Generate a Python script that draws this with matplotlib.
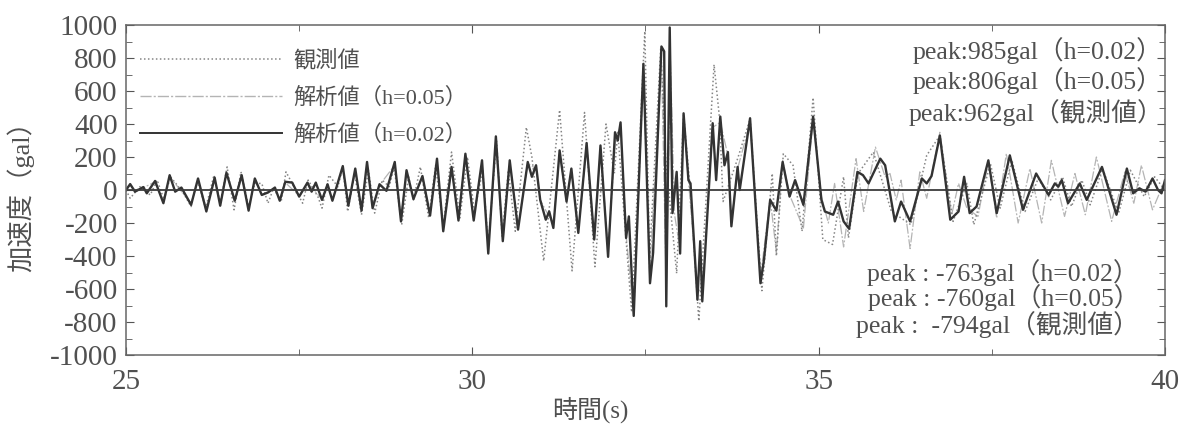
import numpy as np
import matplotlib
matplotlib.use('Agg')
import matplotlib.pyplot as plt
from matplotlib.lines import Line2D

plt.rcParams['axes.unicode_minus'] = False

# acceleration time histories (extrema, gal)
t02 = [25.00, 25.06, 25.13, 25.25, 25.30, 25.42, 25.54, 25.63, 25.71, 25.80,
       25.94, 26.04, 26.16, 26.28, 26.36, 26.45, 26.57, 26.67, 26.77, 26.86,
       26.96, 27.05, 27.15, 27.22, 27.30, 27.40, 27.50, 27.62, 27.68, 27.74,
       27.83, 27.91, 27.98, 28.13, 28.21, 28.31, 28.40, 28.48, 28.56, 28.66,
       28.76, 28.88, 28.97, 29.05, 29.15, 29.28, 29.39, 29.49, 29.58, 29.70,
       29.80, 29.90, 30.02, 30.14, 30.23, 30.34, 30.44, 30.54, 30.66, 30.80,
       30.86, 30.92, 30.98, 31.06, 31.11, 31.17, 31.26, 31.36, 31.43, 31.53,
       31.65, 31.76, 31.85, 31.96, 32.06, 32.10, 32.14, 32.22, 32.26, 32.33,
       32.47, 32.565, 32.61, 32.73, 32.77, 32.80, 32.85, 32.89, 32.95, 33.00,
       33.05, 33.12, 33.15, 33.25, 33.29, 33.32, 33.47, 33.52, 33.58, 33.64,
       33.69, 33.74, 33.83, 33.86, 34.01, 34.16, 34.21, 34.30, 34.39, 34.48,
       34.58, 34.66, 34.78, 34.92, 35.04, 35.09, 35.21, 35.28, 35.36, 35.44,
       35.56, 35.64, 35.72, 35.89, 35.96, 36.10, 36.19, 36.32, 36.49, 36.56,
       36.63, 36.75, 36.90, 37.02, 37.10, 37.18, 37.28, 37.45, 37.57, 37.76,
       37.95, 38.14, 38.32, 38.41, 38.46, 38.51, 38.60, 38.77, 38.87, 39.09,
       39.30, 39.45, 39.54, 39.63, 39.72, 39.82, 39.90, 39.95, 40.00]
a02 = [0, 36, -10, 18, -20, 55, -80, 90, -10, 15,
       -90, 70, -130, 75, -95, 105, -65, 90, -125, 70,
       -30, -15, 15, -65, 50, 45, -40, 45, -10, 45,
       -60, 35, -65, 145, -95, 130, -125, 170, -110, 35,
       -5, 170, -190, 120, -55, 85, -155, 190, -250, 140,
       -185, 220, -185, 180, -385, 325, -310, 180, -240, 170,
       80, 150, -60, -180, -130, -230, 240, -70, 130, -260,
       285, -300, 270, -405, 350, 300, 410, -290, -160, -763,
       765, -565, -380, 870, 840, -705, 985, -140, 110, -385,
       465, 60, 40, -665, -310, -675, 405, 60, 445, 150,
       230, -220, 140, 0, 435, -565, -425, -60, -125, 170,
       -40, 60, -90, 445, -60, -130, -150, -70, -190, -235,
       110, 90, 40, 190, 150, -190, -70, -190, 70, 40,
       85, 330, -180, -130, 80, -140, -100, 180, -140, 210,
       -120, 100, -30, 40, 20, 60, -80, 40, -60, 140,
       -150, 130, -20, 10, -10, 70, 0, -20, 60]

t05 = [25.00, 25.06, 25.14, 25.42, 25.54, 25.63, 25.94, 26.04, 26.16, 26.28,
       26.36, 26.45, 26.57, 26.67, 26.77, 26.86, 26.96, 27.15, 27.22, 27.30,
       27.50, 27.62, 27.83, 27.91, 27.98, 28.13, 28.21, 28.31, 28.40, 28.48,
       28.56, 28.66, 28.88, 28.97, 29.05, 29.15, 29.28, 29.39, 29.49, 29.58,
       29.70, 29.80, 29.90, 30.02, 30.14, 30.23, 30.34, 30.44, 30.54, 30.66,
       30.80, 30.92, 30.98, 31.17, 31.26, 31.36, 31.43, 31.53, 31.65, 31.76,
       31.85, 31.96, 32.07, 32.14, 32.22, 32.33, 32.47, 32.56, 32.73, 32.80,
       32.86, 32.92, 33.00, 33.05, 33.12, 33.25, 33.32, 33.47, 33.58, 33.69,
       33.74, 33.83, 34.01, 34.16, 34.30, 34.39, 34.48, 34.58, 34.78, 34.92,
       35.04, 35.14, 35.23, 35.36, 35.54, 35.65, 35.82, 35.96, 36.03, 36.12,
       36.19, 36.32, 36.46, 36.56, 36.75, 36.92, 37.02, 37.14, 37.30, 37.45,
       37.57, 37.71, 37.88, 38.05, 38.22, 38.36, 38.55, 38.70, 38.85, 39.01,
       39.23, 39.42, 39.55, 39.66, 39.82, 39.97, 40.00]
a05 = [0, 30, -10, 50, -70, 80, -80, 60, -110, 70,
       -90, 100, -60, 80, -110, 60, -30, 10, -60, 45,
       -35, 40, -55, 30, -60, 130, -90, 120, -115, 150,
       -100, 30, 150, -170, 110, -50, 80, -140, 170, -220,
       130, -170, 200, -170, 160, -340, 290, -280, 160, -220,
       160, 130, -60, -210, 220, -70, 120, -240, 260, -270,
       250, -360, 320, 370, -270, -760, 700, -520, 806, -600,
       780, -150, -360, 430, 60, -600, -620, 380, 410, 210,
       -200, 130, 410, -530, -50, -380, 180, -30, -230, 430,
       -40, -200, 40, -345, 190, -130, 260, 80, 100, -60,
       60, -355, 110, -50, 350, -150, 40, -110, -160, 170,
       -170, 220, -200, 130, -200, 180, -160, 100, -150, 200,
       -190, 110, -80, 150, -120, 30, 0]

t_obs = [25.00, 25.06, 25.20, 25.35, 25.45, 25.55, 25.64, 25.72, 25.83, 25.94,
         26.03, 26.15, 26.27, 26.36, 26.46, 26.56, 26.66, 26.77, 26.86, 26.96,
         27.05, 27.13, 27.24, 27.31, 27.45, 27.55, 27.63, 27.77, 27.83, 27.93,
         28.06, 28.13, 28.20, 28.30, 28.40, 28.50, 28.59, 28.70, 28.80, 28.87,
         28.98, 29.08, 29.15, 29.25, 29.37, 29.47, 29.58, 29.70, 29.82, 29.93,
         30.03, 30.15, 30.23, 30.35, 30.43, 30.52, 30.62, 30.78, 30.86, 31.03,
         31.26, 31.44, 31.62, 31.77, 31.93, 32.05, 32.10, 32.30, 32.49, 32.56,
         32.72, 32.79, 32.95, 33.05, 33.15, 33.27, 33.49, 33.57, 33.62, 33.83,
         34.01, 34.18, 34.33, 34.39, 34.49, 34.63, 34.76, 34.92, 35.06, 35.20,
         35.36, 35.43, 35.57, 35.79, 36.05, 36.33, 36.56, 36.75, 36.94, 37.14,
         37.24, 37.48, 37.62, 37.79, 37.98, 38.17, 38.35, 38.52, 38.65, 38.80,
         38.92, 39.10, 39.33, 39.50, 39.70, 39.85, 40.00]
a_obs = [0, -50, 20, -30, 60, -60, 80, 40, -20, -100,
         60, -110, 90, -80, 140, -120, 110, -100, 40, 40,
         -80, 10, -70, 110, 0, -80, 60, -40, -110, 90,
         20, 140, -130, 100, -150, 120, -140, 60, 20, 140,
         -210, 80, -60, 140, -170, 150, -220, 230, -170, 200,
         -130, 120, -330, 300, -280, 120, -250, 380, 200, -430,
         485, -490, 470, -465, 400, 100, 350, -740, 962, -400,
         860, 200, -505, 460, -20, -794, 760, 430, -70, 190,
         430, -610, 100, -400, 220, 150, -250, 560, -300, -330,
         80, -290, 100, 230, -130, -210, 210, 330, -190, 40,
         -210, 160, -110, 180, -130, 70, -60, 80, -100, 60,
         -90, 130, -140, 120, -40, 80, 0]

legend_labels = ['観測値', '解析値（h=0.05）', '解析値（h=0.02）']
peak_hi = ['peak:985gal（h=0.02）', 'peak:806gal（h=0.05）', 'peak:962gal（観測値）']
peak_lo = ['peak : -763gal（h=0.02）', 'peak : -760gal（h=0.05）', 'peak :  -794gal（観測値）']

fam = ['Liberation Serif', 'Noto Sans CJK JP']
txt = '#505050'

fig = plt.figure(figsize=(11.82, 4.24), dpi=100)
ax = fig.add_axes([0.1066, 0.1627, 0.8790, 0.7783])

ax.plot(t05, a05, color='#b4b4b4', lw=0.9, ls=(0, (8, 1.5, 1.5, 1.5)))
ax.plot(t_obs, a_obs, color='#858585', lw=1.1, ls=(0, (1, 1.6)))
ax.plot(t02, a02, color='#333333', lw=1.7, solid_joinstyle='round')
ax.axhline(0, color='#3c3c3c', lw=1.3)

ax.set_xlim(25, 40)
ax.set_ylim(-1000, 1000)
ax.set_xticks([25, 30, 35, 40])
ax.set_xticks(np.arange(25, 40.1, 2.5), minor=True)
ax.set_yticks(np.arange(-1000, 1001, 200))
ax.set_yticks(np.arange(-1000, 1001, 100), minor=True)
ax.tick_params(which='both', direction='in', top=True, right=True,
               color='#555555', labelcolor=txt)
ax.tick_params(which='major', length=6)
ax.tick_params(which='minor', length=4)
ax.tick_params(axis='y', which='major', pad=6)
ax.tick_params(axis='x', which='major', pad=10)
for lab in ax.get_xticklabels() + ax.get_yticklabels():
    lab.set_family(fam)
    lab.set_fontsize(21)
for sp in ax.spines.values():
    sp.set_color('#666666')
    sp.set_linewidth(1.1)

ax.set_xlabel('時間(s)', family=fam, fontsize=18, color=txt)
ax.xaxis.set_label_coords(0.447, -0.125)
ax.set_ylabel('加速度（gal）', family=fam, fontsize=19, color=txt)
ax.yaxis.set_label_coords(-0.088, 0.5)

handles = [Line2D([], [], color='#858585', lw=1.1, ls=(0, (1, 1.6))),
           Line2D([], [], color='#b4b4b4', lw=1.0, ls=(0, (8, 1.5, 1.5, 1.5))),
           Line2D([], [], color='#333333', lw=1.4)]
leg = ax.legend(handles, legend_labels,
                loc='upper left', bbox_to_anchor=(-0.006, 0.985), frameon=False,
                handlelength=6.4, handletextpad=0.5, labelspacing=0.72,
                prop={'family': fam, 'size': 16})
for t in leg.get_texts():
    t.set_color(txt)

hi_y = [0.924, 0.833, 0.736]
for s, y in zip(peak_hi, hi_y):
    ax.text(0.998, y, s, transform=ax.transAxes, ha='right',
            va='center', family=fam, fontsize=18.5, color=txt)
lo_y = [0.2515, 0.173, 0.091]
for s, y in zip(peak_lo, lo_y):
    ax.text(0.975, y, s, transform=ax.transAxes, ha='right',
            va='center', family=fam, fontsize=18.5, color=txt)

fig.savefig('out.png', dpi=100)
